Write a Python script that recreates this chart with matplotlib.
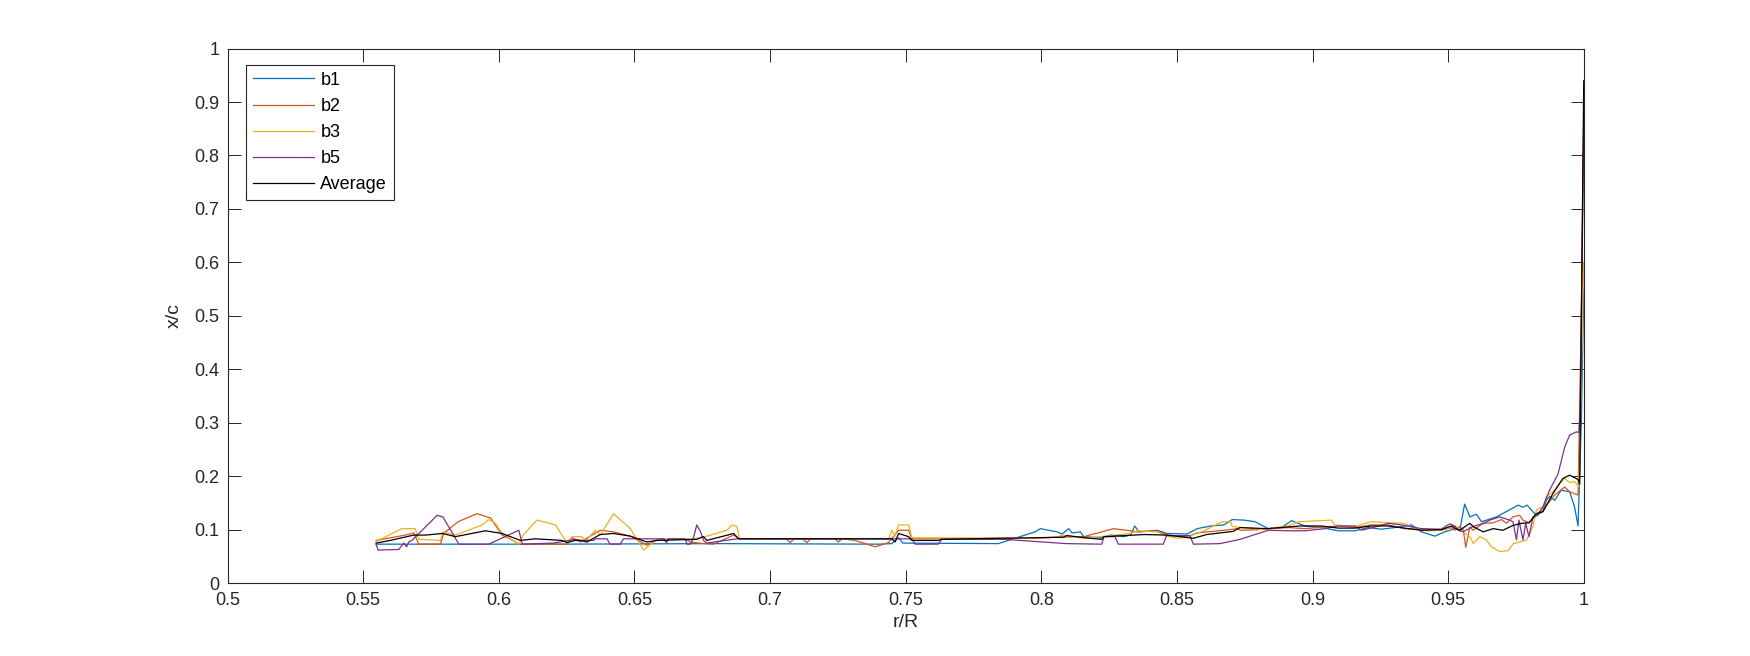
import numpy as np
import matplotlib
matplotlib.use("Agg")
import matplotlib.pyplot as plt

# blade sections, r/R vs x/c
b1_r = [0.5548, 0.62, 0.68, 0.74, 0.7449, 0.7474, 0.7490, 0.7842, 0.7977, 0.7997, 0.8058, 0.8077,
        0.8101, 0.8114, 0.8144, 0.8157, 0.8218, 0.8255, 0.8304, 0.8329, 0.8345, 0.8360, 0.8427,
        0.8464, 0.8538, 0.8575, 0.8624, 0.8673, 0.8704, 0.8747, 0.8788, 0.8837, 0.8886, 0.8923,
        0.8972, 0.9033, 0.9095, 0.9156, 0.9205, 0.9254, 0.9303, 0.9365, 0.9402, 0.9451, 0.9488,
        0.9525, 0.9543, 0.9561, 0.9580, 0.9604, 0.9623, 0.9648, 0.9678, 0.9715, 0.9758, 0.9776,
        0.9791, 0.9825, 0.9850, 0.9862, 0.9874, 0.9893, 0.9917, 0.9948, 0.9966, 0.9979, 0.9991, 1.0]
b1_x = [0.073, 0.073, 0.074, 0.073, 0.074, 0.085, 0.075, 0.074, 0.096, 0.102, 0.096, 0.092,
        0.102, 0.094, 0.096, 0.087, 0.085, 0.090, 0.087, 0.090, 0.107, 0.096, 0.099,
        0.093, 0.092, 0.102, 0.107, 0.109, 0.119, 0.118, 0.115, 0.102, 0.104, 0.117,
        0.107, 0.104, 0.098, 0.098, 0.104, 0.101, 0.104, 0.109, 0.096, 0.088, 0.096,
        0.102, 0.099, 0.148, 0.124, 0.129, 0.115, 0.119, 0.124, 0.134, 0.146, 0.142,
        0.146, 0.127, 0.134, 0.155, 0.162, 0.155, 0.174, 0.171, 0.143, 0.107, 0.30, 0.55]

b2_r = [0.5548, 0.5656, 0.5687, 0.5705, 0.5785, 0.5797, 0.5850, 0.5920, 0.5970, 0.6012, 0.6049,
        0.6074, 0.6250, 0.6270, 0.6301, 0.6374, 0.6423, 0.6485, 0.6546, 0.6583, 0.6608, 0.6618,
        0.6626, 0.6687, 0.6706, 0.6755, 0.6792, 0.6866, 0.6888, 0.7060, 0.7074, 0.7090, 0.7120,
        0.7136, 0.7150, 0.7240, 0.7252, 0.7265, 0.7314, 0.7388, 0.7437, 0.7474, 0.7511, 0.7523,
        0.7959, 0.8058, 0.8157, 0.8267, 0.8329, 0.8353, 0.8427, 0.8464, 0.8538, 0.8575, 0.8673,
        0.8722, 0.8735, 0.8788, 0.8911, 0.8972, 0.9095, 0.9156, 0.9217, 0.9279, 0.9340, 0.9402,
        0.9475, 0.9512, 0.9525, 0.9543, 0.9556, 0.9565, 0.9580, 0.9592, 0.9629, 0.9666, 0.9697,
        0.9715, 0.9739, 0.9764, 0.9776, 0.9798, 0.9831, 0.9868, 0.9893, 0.9930, 0.9948, 0.9979,
        0.9991, 1.0]
b2_x = [0.080, 0.090, 0.094, 0.073, 0.073, 0.093, 0.115, 0.130, 0.122, 0.090, 0.081,
        0.073, 0.073, 0.085, 0.077, 0.099, 0.096, 0.088, 0.071, 0.081, 0.083, 0.075,
        0.083, 0.083, 0.077, 0.074, 0.073, 0.090, 0.083, 0.083, 0.076, 0.083, 0.083,
        0.076, 0.083, 0.083, 0.077, 0.083, 0.080, 0.068, 0.076, 0.099, 0.099, 0.083,
        0.084, 0.086, 0.087, 0.102, 0.098, 0.096, 0.098, 0.090, 0.087, 0.094, 0.099,
        0.102, 0.099, 0.100, 0.104, 0.102, 0.107, 0.104, 0.109, 0.109, 0.102, 0.100,
        0.099, 0.104, 0.099, 0.106, 0.100, 0.067, 0.105, 0.099, 0.112, 0.113, 0.119,
        0.112, 0.124, 0.127, 0.118, 0.113, 0.131, 0.149, 0.165, 0.180, 0.171, 0.165,
        0.50, 0.88]

b3_r = [0.5548, 0.5643, 0.5692, 0.5705, 0.5785, 0.5794, 0.5840, 0.5939, 0.5963, 0.5988, 0.6012,
        0.6074, 0.6090, 0.6141, 0.6209, 0.6252, 0.6270, 0.6307, 0.6319, 0.6356, 0.6374, 0.6423,
        0.6485, 0.6534, 0.6571, 0.6600, 0.6718, 0.6767, 0.6841, 0.6860, 0.6878, 0.6888, 0.7437,
        0.7449, 0.7461, 0.7474, 0.7511, 0.7523, 0.7959, 0.8058, 0.8077, 0.8157, 0.8218, 0.8329,
        0.8353, 0.8427, 0.8464, 0.8501, 0.8538, 0.8600, 0.8667, 0.8698, 0.8704, 0.8784, 0.8788,
        0.8911, 0.8948, 0.9033, 0.9070, 0.9082, 0.9156, 0.9217, 0.9279, 0.9340, 0.9377, 0.9426,
        0.9475, 0.9525, 0.9543, 0.9580, 0.9593, 0.9617, 0.9641, 0.9660, 0.9690, 0.9721, 0.9740,
        0.9764, 0.9789, 0.9813, 0.9825, 0.9850, 0.9862, 0.9887, 0.9905, 0.9930, 0.9948, 0.9966,
        0.9982, 1.0]
b3_x = [0.078, 0.102, 0.102, 0.082, 0.080, 0.096, 0.090, 0.109, 0.119, 0.112, 0.093,
        0.073, 0.090, 0.118, 0.109, 0.075, 0.087, 0.087, 0.078, 0.099, 0.090, 0.130,
        0.102, 0.062, 0.077, 0.083, 0.083, 0.088, 0.099, 0.109, 0.106, 0.083, 0.083,
        0.099, 0.088, 0.109, 0.109, 0.085, 0.084, 0.086, 0.090, 0.084, 0.087, 0.093,
        0.098, 0.096, 0.088, 0.084, 0.086, 0.098, 0.115, 0.115, 0.106, 0.102, 0.099,
        0.107, 0.115, 0.117, 0.118, 0.109, 0.106, 0.115, 0.113, 0.112, 0.101, 0.098,
        0.099, 0.107, 0.100, 0.087, 0.074, 0.087, 0.081, 0.068, 0.059, 0.061, 0.074,
        0.077, 0.081, 0.106, 0.137, 0.143, 0.162, 0.171, 0.183, 0.196, 0.188, 0.190,
        0.180, 0.60]

b5_r = [0.5548, 0.5555, 0.5631, 0.5650, 0.5660, 0.5670, 0.5680, 0.5773, 0.5794, 0.5853, 0.5963,
        0.6074, 0.6087, 0.6200, 0.6282, 0.6301, 0.6350, 0.6356, 0.6399, 0.6410, 0.6448, 0.6460,
        0.6608, 0.6618, 0.6626, 0.6687, 0.6694, 0.6706, 0.6718, 0.6730, 0.6745, 0.6755, 0.6767,
        0.6878, 0.7523, 0.7535, 0.7621, 0.7633, 0.7866, 0.7977, 0.8094, 0.8223, 0.8231, 0.8272,
        0.8284, 0.8450, 0.8462, 0.8548, 0.8561, 0.8659, 0.8733, 0.8782, 0.8837, 0.8911, 0.8972,
        0.9046, 0.9095, 0.9156, 0.9181, 0.9230, 0.9279, 0.9328, 0.9402, 0.9475, 0.9506, 0.9525,
        0.9537, 0.9555, 0.9592, 0.9629, 0.9654, 0.9690, 0.9721, 0.9739, 0.9752, 0.9761, 0.9776,
        0.9786, 0.9798, 0.9813, 0.9831, 0.9850, 0.9874, 0.9905, 0.9930, 0.9948, 0.9973, 0.9982,
        0.9987, 1.0]
b5_x = [0.073, 0.062, 0.063, 0.075, 0.068, 0.078, 0.080, 0.127, 0.124, 0.073, 0.073,
        0.099, 0.073, 0.075, 0.082, 0.080, 0.080, 0.083, 0.083, 0.073, 0.073, 0.083,
        0.083, 0.078, 0.083, 0.083, 0.073, 0.073, 0.085, 0.109, 0.095, 0.080, 0.075,
        0.083, 0.083, 0.073, 0.073, 0.082, 0.082, 0.078, 0.074, 0.073, 0.087, 0.087,
        0.073, 0.073, 0.089, 0.089, 0.073, 0.074, 0.082, 0.090, 0.099, 0.098, 0.098,
        0.102, 0.107, 0.107, 0.099, 0.105, 0.112, 0.109, 0.102, 0.101, 0.111, 0.107,
        0.099, 0.096, 0.106, 0.112, 0.118, 0.124, 0.119, 0.115, 0.081, 0.118, 0.081,
        0.112, 0.087, 0.124, 0.127, 0.143, 0.174, 0.204, 0.255, 0.277, 0.283, 0.282,
        0.32, 0.85]

avg_r = [0.5548, 0.5600, 0.5687, 0.5730, 0.5794, 0.5840, 0.5951, 0.6012, 0.6080, 0.6135, 0.6233,
         0.6252, 0.6282, 0.6301, 0.6325, 0.6374, 0.6423, 0.6485, 0.6546, 0.6583, 0.6730, 0.6755,
         0.6767, 0.6866, 0.6884, 0.7449, 0.7461, 0.7474, 0.7511, 0.7523, 0.7621, 0.7633, 0.7848,
         0.7977, 0.8082, 0.8094, 0.8180, 0.8223, 0.8231, 0.8380, 0.8462, 0.8561, 0.8610, 0.8708,
         0.8733, 0.8831, 0.8954, 0.9033, 0.9095, 0.9156, 0.9217, 0.9279, 0.9340, 0.9402, 0.9475,
         0.9512, 0.9525, 0.9543, 0.9580, 0.9592, 0.9629, 0.9666, 0.9702, 0.9739, 0.9770, 0.9798,
         0.9825, 0.9850, 0.9887, 0.9923, 0.9948, 0.9979, 0.9985, 1.0]
avg_x = [0.075, 0.080, 0.090, 0.090, 0.093, 0.087, 0.098, 0.093, 0.080, 0.083, 0.080,
         0.076, 0.080, 0.080, 0.077, 0.091, 0.093, 0.088, 0.077, 0.080, 0.082, 0.087,
         0.080, 0.093, 0.083, 0.083, 0.077, 0.093, 0.087, 0.080, 0.080, 0.082, 0.084,
         0.085, 0.086, 0.089, 0.084, 0.082, 0.087, 0.091, 0.090, 0.084, 0.091, 0.097,
         0.104, 0.102, 0.107, 0.107, 0.103, 0.103, 0.107, 0.107, 0.103, 0.099, 0.100,
         0.107, 0.103, 0.099, 0.112, 0.106, 0.096, 0.102, 0.099, 0.108, 0.112, 0.113,
         0.130, 0.134, 0.168, 0.196, 0.202, 0.194, 0.185, 0.94]

labels = ['b1', 'b2', 'b3', 'b5', 'Average']
colors = ['#0072BD', '#D95319', '#EDB120', '#7E2F8E', 'k']

plt.rcParams['font.family'] = ['Liberation Sans', 'DejaVu Sans']
axcol = '#262626'

fig = plt.figure(figsize=(17.5, 6.56), dpi=100)
ax = fig.add_axes([0.13, 0.111, 0.775, 0.815])

series = [(b1_r, b1_x), (b2_r, b2_x), (b3_r, b3_x), (b5_r, b5_x), (avg_r, avg_x)]
for (r, x), lab, c in zip(series, labels, colors):
    ax.plot(r, x, color=c, lw=0.9, label=lab)

ax.set_xlim(0.5, 1)
ax.set_ylim(0, 1)
xt = np.arange(0.5, 1.0001, 0.05)
yt = np.arange(0, 1.0001, 0.1)
ax.set_xticks(xt)
ax.set_xticklabels(['%g' % round(v, 2) for v in xt])
ax.set_yticks(yt)
ax.set_yticklabels(['%g' % round(v, 1) for v in yt])
ax.tick_params(direction='in', length=9.5, width=0.7, top=True, right=True,
               labelsize=13, colors=axcol, pad=6)
for s in ax.spines.values():
    s.set_color(axcol)
    s.set_linewidth(0.8)

ax.set_xlabel('r/R', fontsize=14, color=axcol, labelpad=4)
ax.set_ylabel('x/c', fontsize=14, color=axcol, labelpad=8)

leg = ax.legend(loc='upper left', bbox_to_anchor=(0.0133, 0.970), borderaxespad=0,
                fontsize=13, handlelength=3.4, handletextpad=0.35, labelspacing=0.5,
                fancybox=False, framealpha=1, edgecolor=axcol, borderpad=0.4)
leg.get_frame().set_linewidth(0.8)

plt.savefig('out.png', dpi=100)
